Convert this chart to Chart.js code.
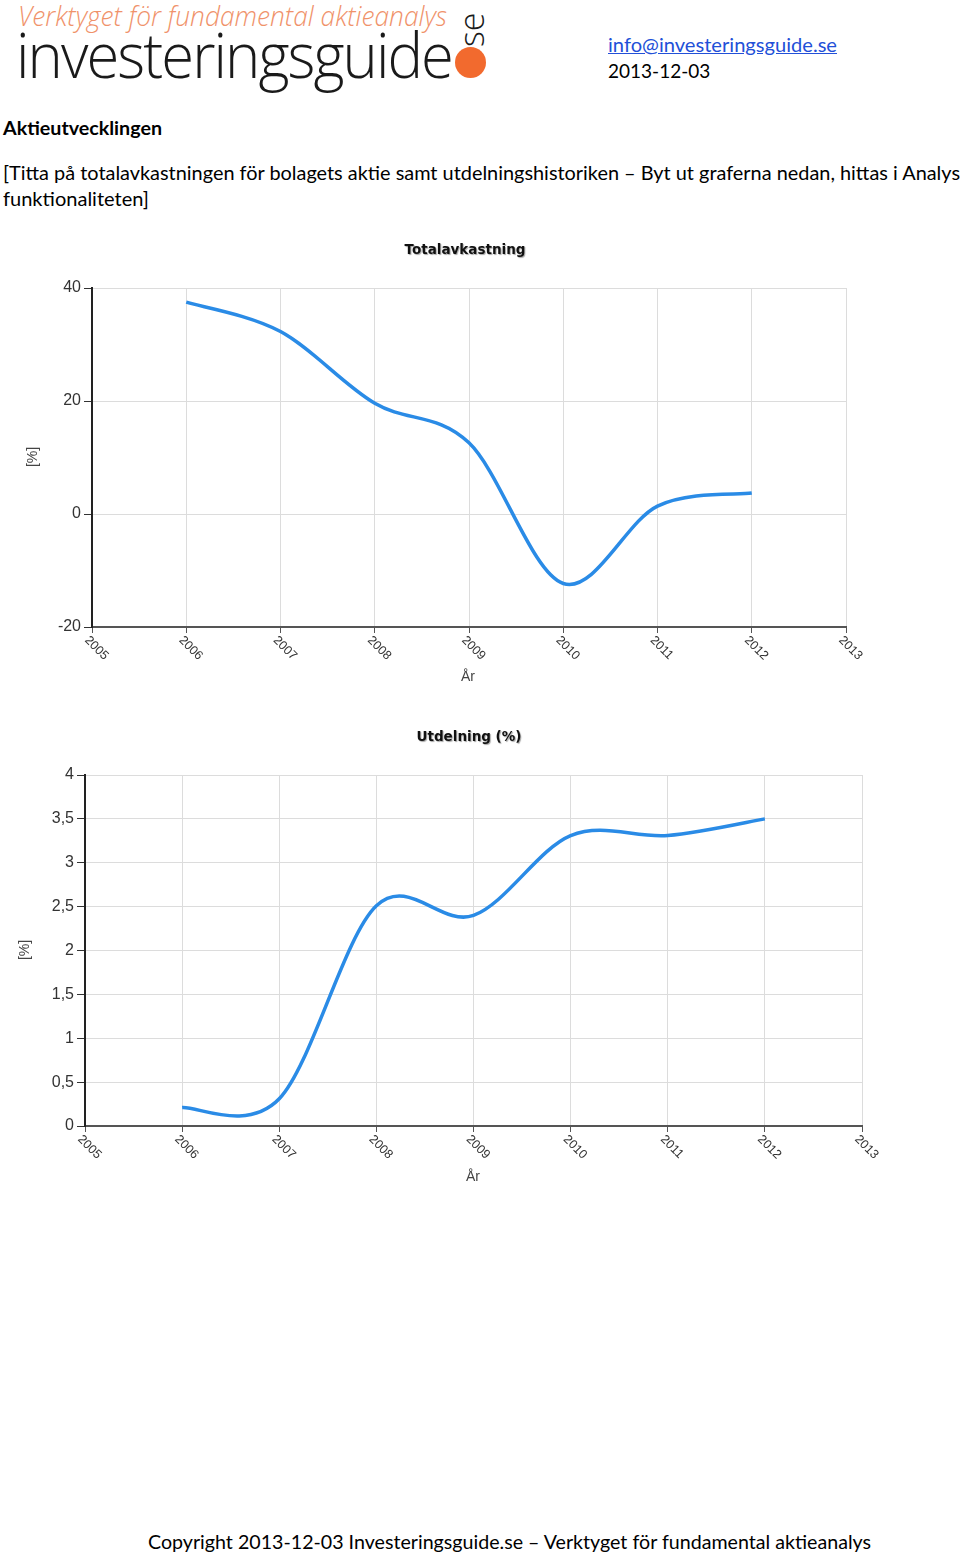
<!DOCTYPE html>
<html lang="sv">
<head>
<meta charset="utf-8">
<title>Aktieutvecklingen</title>
<script src="https://cdn.jsdelivr.net/npm/chart.js@4.4.0/dist/chart.umd.min.js"></script>
<style>
    body {
        margin: 0;
        width: 960px;
        height: 1556px;
        position: relative;
        overflow: hidden;
        background: #fff;
        font-family: Lato, "Liberation Sans", sans-serif;
        color: #000;
    }
    .abs { position: absolute; white-space: nowrap; }
    .fit { transform-origin: 0 0; display: inline-block; }
    #tagline { left: 18px; top: -4px; font-size: 28px; font-style: italic; font-weight: 300; color: #f0926a; font-family: "Open Sans", Lato, sans-serif; }
    #brand { left: 16px; top: 12px; font-size: 62px; font-weight: 300; color: #1a1a1a; font-family: "Open Sans", Lato, sans-serif; letter-spacing: -2px; line-height: 1.362; }
    #brandSe { left: 454px; top: 47px; font-size: 34px; line-height: 34px; font-weight: 300; color: #1a1a1a; font-family: "Open Sans", sans-serif; transform: rotate(-90deg); transform-origin: 0 0; }
    #brandDot { left: 455px; top: 47px; width: 31px; height: 31px; border-radius: 50%; background: #f26a2e; }
    #mail { left: 608px; top: 33px; font-size: 19px; color: #2250d8; text-decoration: underline; }
    #date { left: 608px; top: 59px; font-size: 19px; }
    #heading { left: 3px; top: 116px; font-size: 19px; font-weight: bold; }
    #line1 { left: 3px; top: 161px; font-size: 19px; }
    #line2 { left: 3px; top: 187px; font-size: 19px; }
    #footer { left: 148px; top: 1530px; font-size: 19px; }
    .chartBox { position: absolute; left: 0; }
</style>
</head>
<body>

<div class="abs fit" id="tagline">Verktyget för fundamental aktieanalys</div>
<div class="abs fit" id="brand">investeringsguide</div>
<div class="abs" id="brandSe">se</div>
<div class="abs" id="brandDot"></div>

<a class="abs fit" id="mail" href="mailto:info@investeringsguide.se">info@investeringsguide.se</a>
<div class="abs" id="date">2013-12-03</div>

<div class="abs fit" id="heading">Aktieutvecklingen</div>
<div class="abs fit" id="line1">[Titta på totalavkastningen för bolagets aktie samt utdelningshistoriken – Byt ut graferna nedan, hittas i Analys</div>
<div class="abs fit" id="line2">funktionaliteten]</div>

<div class="chartBox" style="top:230px; width:900px; height:470px;"><canvas id="returnChart"></canvas></div>
<div class="chartBox" style="top:720px; width:910px; height:470px;"><canvas id="dividendChart"></canvas></div>

<div class="abs fit" id="footer">Copyright 2013-12-03 Investeringsguide.se – Verktyget för fundamental aktieanalys</div>

<script>
// Data
const years = [2006, 2007, 2008, 2009, 2010, 2011, 2012];
const totalReturn = [37.5, 32.3, 19.6, 12.6, -12.3, 1.4, 3.7];
const dividendYield = [0.21, 0.31, 2.51, 2.40, 3.31, 3.31, 3.50];

// Axis ranges and tick labels
const yearTicks = [2005, 2006, 2007, 2008, 2009, 2010, 2011, 2012, 2013];
const returnTicks = [-20, 0, 20, 40];
const dividendTicks = [0, 0.5, 1, 1.5, 2, 2.5, 3, 3.5, 4];

// Stretch a text block so it ends where it ends in the picture
function fitWidth(id, width) {
    var el = document.getElementById(id);
    var w = el.getBoundingClientRect().width;
    el.style.transform = 'scaleX(' + (width / w) + ')';
}
fitWidth('tagline', 429);
fitWidth('brand', 436);
fitWidth('heading', 159);
fitWidth('line1', 957);
fitWidth('line2', 146);
fitWidth('mail', 229);
fitWidth('footer', 723);

// The old chart used an even (Catmull-Rom) spline, so the control points
// are recomputed from the points Chart.js placed on its scales
const evenSplinePlugin = {
    id: 'evenSpline',
    beforeDatasetDraw(chart, args) {
        const meta = args.meta;
        const line = meta.dataset;
        line.updateControlPoints(chart.chartArea, 'x');
        const pts = meta.data;
        for (let i = 0; i < pts.length; i++) {
            const prev = pts[Math.max(i - 1, 0)];
            const next = pts[Math.min(i + 1, pts.length - 1)];
            const dx = (next.x - prev.x) / 6;
            const dy = (next.y - prev.y) / 6;
            pts[i].cp1x = pts[i].x - dx;
            pts[i].cp1y = pts[i].y - dy;
            pts[i].cp2x = pts[i].x + dx;
            pts[i].cp2y = pts[i].y + dy;
        }
    }
};

// Draws the title, the axis titles and the slanted year labels
const decorPlugin = {
    id: 'decor',
    afterDraw(chart) {
        const o = chart.options.plugins.decor;
        const ctx = chart.ctx;
        const xs = chart.scales.x;
        const area = chart.chartArea;

        ctx.save();
        // title with a soft shadow
        ctx.font = 'bold 13.5px "DejaVu Sans", Verdana, sans-serif';
        ctx.textAlign = 'center';
        ctx.textBaseline = 'middle';
        ctx.shadowColor = 'rgba(0,0,0,0.35)';
        ctx.shadowOffsetX = 1;
        ctx.shadowOffsetY = 1;
        ctx.shadowBlur = 1;
        ctx.fillStyle = '#111';
        ctx.fillText(o.title, o.titleX, o.titleY);
        ctx.restore();

        // slanted year labels
        ctx.save();
        ctx.font = '12.5px "Liberation Sans", Arial, sans-serif';
        ctx.fillStyle = '#333';
        ctx.textAlign = 'left';
        ctx.textBaseline = 'top';
        yearTicks.forEach(function (yr) {
            const px = xs.getPixelForValue(yr);
            ctx.save();
            ctx.translate(px - 1, area.bottom + 7);
            ctx.rotate(Math.PI / 4);
            ctx.fillText(String(yr), 0, 0);
            ctx.restore();
        });
        ctx.restore();

        // axis titles
        ctx.save();
        ctx.font = '14px "Liberation Sans", Arial, sans-serif';
        ctx.fillStyle = '#444';
        ctx.textAlign = 'center';
        ctx.textBaseline = 'middle';
        ctx.fillText('År', o.xTitleX, o.xTitleY);
        ctx.translate(o.yTitleX, o.yTitleY);
        ctx.rotate(-Math.PI / 2);
        ctx.fillText('[%]', 0, 0);
        ctx.restore();
    }
};

function makeChart(canvasId, values, yTicks, setup) {
    return new Chart(document.getElementById(canvasId), {
        type: 'line',
        data: {
            datasets: [{
                data: years.map((yr, i) => ({x: yr, y: values[i]})),
                borderColor: '#2a8be6',
                borderWidth: 3.5,
                tension: 0.4,
                pointRadius: 0,
                fill: false
            }]
        },
        options: {
            responsive: true,
            maintainAspectRatio: false,
            animation: false,
            layout: {padding: {top: setup.top, right: setup.right, left: 0, bottom: 0}},
            plugins: {
                legend: {display: false},
                tooltip: {enabled: false},
                decor: setup.decor
            },
            scales: {
                x: {
                    type: 'linear',
                    min: yearTicks[0],
                    max: yearTicks[yearTicks.length - 1],
                    afterBuildTicks: axis => { axis.ticks = yearTicks.map(v => ({value: v})); },
                    afterFit: axis => { axis.height = setup.xHeight; },
                    ticks: {display: false},
                    grid: {color: '#dcdcdc', lineWidth: 1, tickLength: 6, tickColor: '#555'},
                    border: {color: '#555', width: 2}
                },
                y: {
                    min: yTicks[0],
                    max: yTicks[yTicks.length - 1],
                    afterBuildTicks: axis => { axis.ticks = yTicks.map(v => ({value: v})); },
                    afterFit: axis => { axis.width = setup.yWidth; },
                    ticks: {
                        color: '#333',
                        padding: 3,
                        font: {family: '"Liberation Sans", Arial, sans-serif', size: 16},
                        callback: v => String(v).replace('.', ',')
                    },
                    grid: {color: '#dcdcdc', lineWidth: 1, tickLength: 8, tickColor: '#333'},
                    border: {color: '#222', width: 2}
                }
            }
        },
        plugins: [evenSplinePlugin, decorPlugin]
    });
}

makeChart('returnChart', totalReturn, returnTicks, {
    top: 58, right: 54, xHeight: 73, yWidth: 92,
    decor: {title: 'Totalavkastning', titleX: 465, titleY: 20, xTitleX: 468, xTitleY: 447, yTitleX: 33, yTitleY: 227}
});

makeChart('dividendChart', dividendYield, dividendTicks, {
    top: 55, right: 48, xHeight: 64, yWidth: 85,
    decor: {title: 'Utdelning (%)', titleX: 469, titleY: 17, xTitleX: 473, xTitleY: 457, yTitleX: 25, yTitleY: 230}
});
</script>
</body>
</html>
